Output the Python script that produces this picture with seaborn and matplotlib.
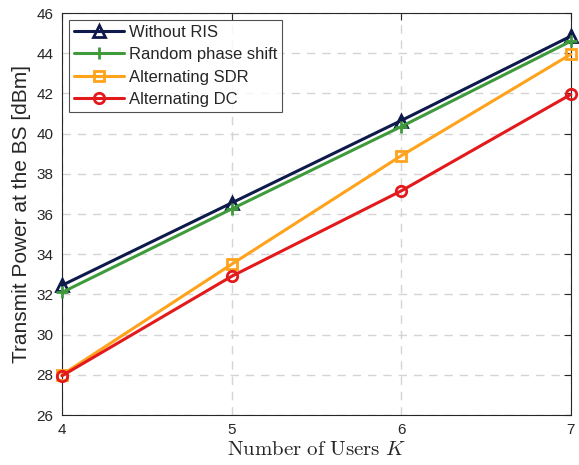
import numpy as np
import pandas as pd
import matplotlib
matplotlib.use("Agg")
import matplotlib.pyplot as plt
import seaborn as sns
from matplotlib.lines import Line2D

users = [4, 5, 6, 7]
without_ris = [32.45, 36.55, 40.65, 44.85]
random_phase = [32.1, 36.25, 40.35, 44.6]
alt_sdr = [28.0, 33.5, 38.9, 43.95]
alt_dc = [27.95, 32.9, 37.15, 41.95]
series_names = ["Without RIS", "Random phase shift", "Alternating SDR", "Alternating DC"]
y_ticks = [26, 28, 30, 32, 34, 36, 38, 40, 42, 44, 46]

df = pd.concat([
    pd.DataFrame({"K": users, "P": vals, "Scheme": name})
    for name, vals in zip(series_names, [without_ris, random_phase, alt_sdr, alt_dc])
])

sns.set_theme(style="white")
plt.rcParams["font.family"] = ["Liberation Sans", "DejaVu Sans"]
plt.rcParams["mathtext.fontset"] = "cm"

colors = ["#0d1a4b", "#3f9a3c", "#ffa21c", "#e31a1c"]
markers = ["^", "P", "s", "o"]
mk_draw = ["^", "+", "s", "o"]
mk_size = [8.5, 9, 6.5, 7.5]

fig = plt.figure(figsize=(5.79, 4.65), dpi=100)
ax = fig.add_axes([0.107, 0.1075, 0.879, 0.8645])

sns.lineplot(data=df, x="K", y="P", hue="Scheme", style="Scheme",
             palette=colors, markers=markers, dashes=False, ax=ax,
             linewidth=2.2, legend=False)
for line, c, m, ms in zip(ax.get_lines(), colors, mk_draw, mk_size):
    line.set_marker(m)
    line.set_markersize(ms)
    line.set_markerfacecolor("none")
    line.set_markeredgecolor(c)
    line.set_markeredgewidth(2)
    line.set_clip_on(False)
    line.set_zorder(3)

ax.set_xlim(4, 7)
ax.set_ylim(26, 46)
ax.set_xticks(users)
ax.set_yticks(y_ticks)
ax.grid(True, linestyle=(0, (6, 5)), color="#d4d4d4", linewidth=1)
for s in ax.spines.values():
    s.set_color("#262626")
    s.set_linewidth(0.8)
ax.tick_params(direction="in", length=5, top=True, right=True, labelsize=11,
               colors="#262626", width=0.8, pad=6)
ax.set_xlabel(r"$\mathrm{Number\ of\ Users}\ K$", fontsize=15, labelpad=2)
ax.set_ylabel("Transmit Power at the BS [dBm]", fontsize=15, labelpad=4, color="#262626")

handles = []
for c, m, ms in zip(colors, mk_draw, mk_size):
    handles.append(Line2D([], [], color=c, marker=m, markerfacecolor="none",
                          markeredgecolor=c, markeredgewidth=2, linewidth=2.2,
                          markersize=ms))
leg = ax.legend(handles, series_names, loc="upper left", fontsize=12,
                frameon=True, fancybox=False, edgecolor="#262626",
                borderpad=0.3, labelspacing=0.45, handlelength=3.0,
                handletextpad=0.3, borderaxespad=0.4)
leg.get_frame().set_linewidth(0.8)
leg.set_zorder(5)

fig.savefig("out.png", dpi=100)
